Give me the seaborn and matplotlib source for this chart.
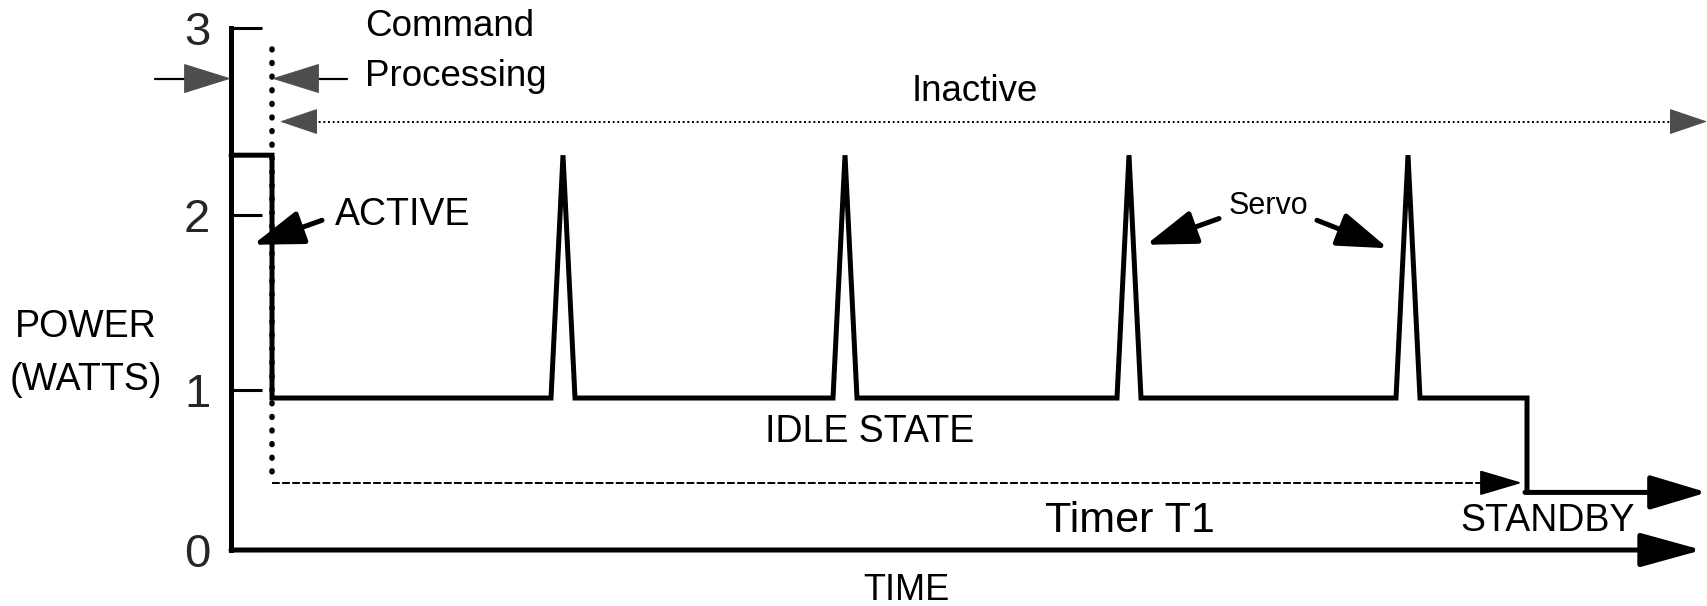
import matplotlib
matplotlib.use('Agg')
import matplotlib.pyplot as plt
import numpy as np
import pandas as pd
import seaborn as sns

# power levels in watts, as drawn on the schematic
active_level = 2.32
idle_level = 0.95
standby_level = 0.36
servo_peak = 2.32

# time points (arbitrary time units)
active_end = 0.41
servo_times = [3.32, 6.14, 8.98, 11.77]
servo_half_width = 0.12
idle_end = 12.96
standby_end = 14.76
time_axis_end = 14.71

# annotation lines
timer_level = 0.42
timer_end = 12.91
inactive_level = 2.50
inactive_start = 0.49
inactive_end = 14.76
command_level = 2.73
command_top = 2.89

y_ticks = [0, 1, 2, 3]
y_tick_labels = ['0', '1', '2', '3']

# the y axis of the drawing is not evenly spaced, map it piecewise
tick_knots = np.array([0.0, 1.0, 2.0, 3.0])
pos_knots = np.array([0.0, 160.0, 335.0, 522.0])


def fwd(v):
    v = np.asarray(v, dtype=float)
    u = np.interp(v, tick_knots, pos_knots)
    u = np.where(v < 0, v * 160.0, u)
    u = np.where(v > 3, 522.0 + (v - 3) * 187.0, u)
    return u


def inv(u):
    u = np.asarray(u, dtype=float)
    v = np.interp(u, pos_knots, tick_knots)
    v = np.where(u < 0, u / 160.0, v)
    v = np.where(u > 522, 3 + (u - 522.0) / 187.0, v)
    return v


# build the power trace from the values above
xs = [0.0, active_end, active_end]
ys = [active_level, active_level, idle_level]
for t in servo_times:
    xs += [t - servo_half_width, t, t + servo_half_width]
    ys += [idle_level, servo_peak, idle_level]
xs += [idle_end, idle_end]
ys += [idle_level, standby_level]
trace = pd.DataFrame({'time': xs, 'power': ys})

sns.set_theme(style='white')
plt.rcParams['font.family'] = ['Liberation Sans', 'DejaVu Sans']

fig = plt.figure(figsize=(17.07, 6.06), dpi=100)
ax = fig.add_axes([0, 0, 1, 1])
ax.set_yscale('function', functions=(fwd, inv))
ax.set_xlim(-2.31, 14.76)
ax.set_ylim(-0.35, 3.15)

LW = 3.6


def arrow(xy, xytext, hl, hw, lw=LW, color='black'):
    ax.annotate('', xy=xy, xytext=xytext,
                arrowprops=dict(arrowstyle=f'-|>,head_length={hl},head_width={hw}',
                                lw=lw, color=color, shrinkA=0, shrinkB=0,
                                mutation_scale=10))


def gray_head(tip_x, y, direction, hl, hw):
    ax.annotate('', xy=(tip_x, y), xytext=(tip_x - 0.05 * direction, y),
                arrowprops=dict(arrowstyle=f'-|>,head_length={hl},head_width={hw}',
                                lw=0.8, color='0.3', shrinkA=0, shrinkB=0,
                                mutation_scale=10))


# dotted marker for command processing end and timer start
ax.plot([active_end, active_end], [command_top, timer_level], color='black', lw=4,
        linestyle=(0, (0.15, 2.3)), dash_capstyle='round', zorder=2)
ax.plot([active_end, timer_end - 0.3], [timer_level, timer_level], color='black',
        lw=1.4, linestyle=(0, (4, 1.2)), zorder=2)
arrow((timer_end, timer_level), (timer_end - 0.3, timer_level), 2.7, 0.8, lw=1.4)

# inactive span
ax.plot([inactive_start + 0.2, inactive_end - 0.2], [inactive_level, inactive_level],
        color='black', lw=1.4, linestyle=(0, (1, 1.4)))
gray_head(inactive_start, inactive_level, -1, 2.5, 0.85)
gray_head(inactive_end, inactive_level, 1, 2.5, 0.85)

# command processing arrows
ax.plot([-0.76, -0.3], [command_level, command_level], color='black', lw=1.6)
gray_head(0.0, command_level, 1, 3.2, 1.0)
ax.plot([active_end + 0.3, 1.16], [command_level, command_level], color='black', lw=1.6)
gray_head(active_end, command_level, -1, 3.2, 1.0)

# power trace
sns.lineplot(data=trace, x='time', y='power', sort=False, estimator=None,
             color='black', lw=LW, ax=ax, zorder=3)
ax.lines[-1].set_solid_joinstyle('miter')
arrow((standby_end, standby_level), (idle_end - 0.02, standby_level), 3.5, 1.05)

# time axis
arrow((time_axis_end, 0), (0, 0), 3.8, 1.05)

# pointers
arrow((0.22, 1.83), (0.91, 1.97), 3.1, 1.05)
arrow((9.15, 1.83), (9.88, 1.98), 3.1, 1.05)
arrow((11.57, 1.81), (10.86, 1.97), 3.1, 1.05)

# axes styling
for side in ['top', 'right', 'bottom']:
    ax.spines[side].set_visible(False)
ax.spines['left'].set_position(('data', 0))
ax.spines['left'].set_bounds(0, 3)
ax.spines['left'].set_linewidth(LW)
ax.spines['left'].set_color('black')
ax.set_xticks([])
ax.set_yticks(y_ticks)
ax.set_yticklabels(y_tick_labels)
ax.tick_params(axis='y', direction='in', length=22, width=2.2, color='black',
               pad=15, labelsize=34, left=True)
ax.set_xlabel('')
ax.set_ylabel('')

# labels
txt = dict(color='black')
ax.text(1.34, 3.01, 'Command', fontsize=26.5, va='center', **txt)
ax.text(1.34, 2.74, 'Processing', fontsize=26.5, va='center', **txt)
ax.text(7.44, 2.66, 'Inactive', fontsize=26.5, ha='center', va='center', **txt)
ax.text(1.04, 2.0, 'ACTIVE', fontsize=27, va='center', **txt)
ax.text(10.37, 2.05, 'Servo', fontsize=22, ha='center', va='center', **txt)
ax.text(6.39, 0.74, 'IDLE STATE', fontsize=27, ha='center', va='center', **txt)
ax.text(8.99, 0.18, 'Timer T1', fontsize=31, ha='center', va='center', **txt)
ax.text(13.17, 0.18, 'STANDBY', fontsize=27, ha='center', va='center', **txt)
ax.text(6.75, -0.25, 'TIME', fontsize=26, ha='center', va='center', **txt)
ax.text(-1.45, 1.36, 'POWER', fontsize=27, ha='center', va='center', **txt)
ax.text(-1.45, 1.06, '(WATTS)', fontsize=27, ha='center', va='center', **txt)

fig.savefig('out.png', dpi=100, facecolor='white')
